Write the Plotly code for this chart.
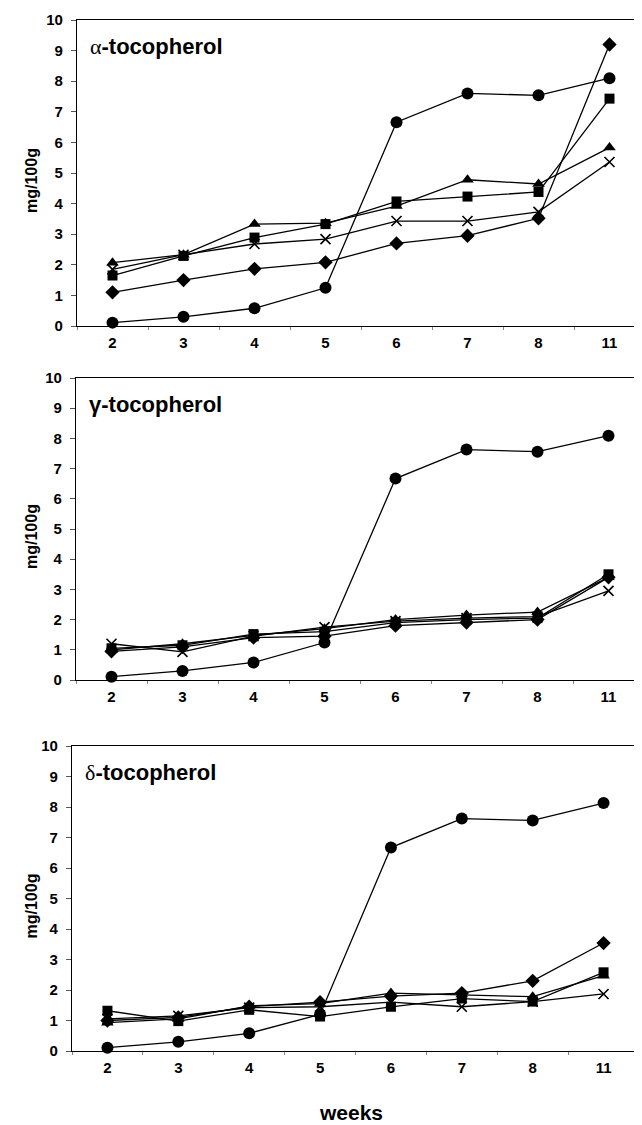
import plotly.graph_objects as go

weeks = ["2", "3", "4", "5", "6", "7", "8", "11"]

# alpha-tocopherol
alpha_circle = [0.11, 0.30, 0.58, 1.25, 6.66, 7.60, 7.54, 8.10]
alpha_diamond = [1.10, 1.50, 1.87, 2.08, 2.70, 2.95, 3.52, 9.20]
alpha_square = [1.65, 2.29, 2.89, 3.33, 4.07, 4.23, 4.38, 7.43]
alpha_triangle = [2.07, 2.33, 3.33, 3.36, 3.92, 4.78, 4.64, 5.83]
alpha_x = [1.85, 2.33, 2.68, 2.84, 3.43, 3.43, 3.73, 5.36]

# gamma-tocopherol
gamma_circle = [0.11, 0.30, 0.58, 1.24, 6.67, 7.63, 7.56, 8.09]
gamma_diamond = [0.95, 1.10, 1.40, 1.45, 1.80, 1.90, 2.00, 3.40]
gamma_square = [1.05, 1.15, 1.52, 1.60, 1.90, 2.00, 2.05, 3.50]
gamma_triangle = [1.00, 1.20, 1.48, 1.70, 2.00, 2.15, 2.25, 3.40]
gamma_x = [1.20, 0.93, 1.45, 1.75, 1.95, 2.05, 2.10, 2.95]

# delta-tocopherol
delta_circle = [0.11, 0.30, 0.58, 1.20, 6.67, 7.62, 7.56, 8.13]
delta_diamond = [1.00, 1.10, 1.45, 1.60, 1.80, 1.90, 2.30, 3.54]
delta_square = [1.32, 0.98, 1.35, 1.13, 1.45, 1.72, 1.62, 2.58]
delta_triangle = [0.93, 1.05, 1.48, 1.55, 1.90, 1.85, 1.78, 2.47]
delta_x = [1.05, 1.15, 1.42, 1.45, 1.60, 1.45, 1.62, 1.87]

greek = ["\u03b1", "\u03b3", "\u03b4"]
greek_serif = [True, False, True]
panel_suffix = "-tocopherol"
y_ticks = list(range(0, 11))

panels = [
    [alpha_diamond, alpha_square, alpha_triangle, alpha_x, alpha_circle],
    [gamma_diamond, gamma_square, gamma_triangle, gamma_x, gamma_circle],
    [delta_diamond, delta_square, delta_triangle, delta_x, delta_circle],
]

# page places the figure at (8, 8); size it so it ends at the window edge
OX, OY = 8, 8
W, H = 642 - OX, 1125 - OY
FONT = "Liberation Sans, Arial, sans-serif"
SERIF = "Liberation Serif, Times New Roman, serif"


def px(x):
    return (x - OX) / W


def py(y):
    return 1 - (y - OY) / H


# pixel geometry (screen coords) of each panel: left, right, top, bottom
geom = [
    (77, 642, 20, 326),
    (76, 642, 378, 680),
    (72, 639, 746, 1051),
]
spacing = [71.0, 71.0, (639 - 72) / 8]

symbols = [
    dict(symbol="diamond", size=11),
    dict(symbol="square", size=10),
    dict(symbol="triangle-up", size=11),
    dict(symbol="x-thin-open", size=10),
    dict(symbol="circle", size=12),
]

fig = go.Figure()

for i, series in enumerate(panels):
    xa = "x" if i == 0 else f"x{i+1}"
    ya = "y" if i == 0 else f"y{i+1}"
    for vals, sym in zip(series, symbols):
        mk = dict(symbol=sym["symbol"], size=sym["size"], color="black")
        if sym["symbol"] == "x-thin-open":
            mk["line"] = dict(color="black", width=1.6)
        fig.add_trace(go.Scatter(
            x=weeks, y=vals, mode="lines+markers",
            line=dict(color="black", width=1.3),
            marker=mk, xaxis=xa, yaxis=ya, showlegend=False,
            cliponaxis=False,
        ))

layout = dict(
    width=W, height=H,
    margin=dict(l=0, r=0, t=0, b=0, autoexpand=False),
    paper_bgcolor="white", plot_bgcolor="white",
    showlegend=False,
)

annotations = []
for i, (l, r, t, b) in enumerate(geom):
    sx = "" if i == 0 else str(i + 1)
    sp = spacing[i]
    left_val = -0.5
    right_val = -0.5 + (r - l) / sp
    layout[f"xaxis{sx}"] = dict(
        domain=[px(l), min(px(r), 1.0)],
        anchor=f"y{sx}",
        type="category",
        categoryorder="array", categoryarray=weeks,
        range=[left_val, right_val],
        showline=True, linecolor="black", linewidth=1.3,
        mirror=True,
        ticks="outside", tickson="boundaries", ticklen=3,
        tickcolor="#888888", tickwidth=1,
        showgrid=False, zeroline=False,
        tickfont=dict(family=FONT, size=15, color="black", weight="bold"),
        ticklabelstandoff=3,
        automargin=False,
        fixedrange=True,
    )
    layout[f"yaxis{sx}"] = dict(
        domain=[py(b), py(t)],
        anchor=f"x{sx}",
        range=[0, 10],
        tickvals=y_ticks,
        showline=True, linecolor="black", linewidth=1.3,
        mirror=(i == 2),
        ticks="outside", ticklen=5, tickcolor="#555555", tickwidth=1,
        showgrid=False, zeroline=False,
        tickfont=dict(family=FONT, size=15, color="black", weight="bold"),
        ticklabelstandoff=5,
        automargin=False,
        fixedrange=True,
    )
    annotations.append(dict(
        x=px(31), y=py((t + b) / 2 + 8), xref="paper", yref="paper",
        text="mg/100g", textangle=-90, showarrow=False,
        font=dict(family=FONT, size=16, color="black", weight="bold"),
        xanchor="center", yanchor="middle",
    ))
    if greek_serif[i]:
        g = f"<span style='font-family:{SERIF};font-weight:normal'>{greek[i]}</span>"
    else:
        g = greek[i]
    annotations.append(dict(
        x=px(l + 11), y=py(t + 26), xref="paper", yref="paper",
        text=g + panel_suffix, showarrow=False,
        font=dict(family=FONT, size=22, color="black", weight="bold"),
        xanchor="left", yanchor="middle",
    ))

annotations.append(dict(
    x=px(351), y=py(1112), xref="paper", yref="paper",
    text="weeks", showarrow=False,
    font=dict(family=FONT, size=21, color="black", weight="bold"),
    xanchor="center", yanchor="middle",
))
layout["annotations"] = annotations

fig.update_layout(**layout)
fig.write_html("out.html")
